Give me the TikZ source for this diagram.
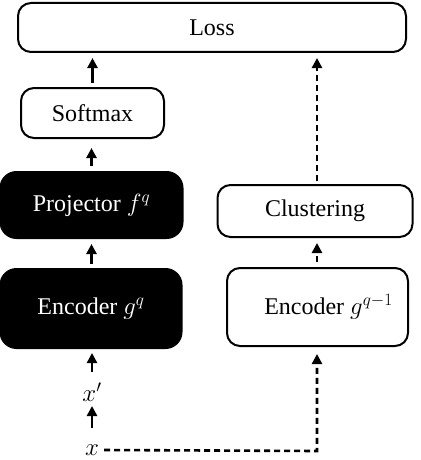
\documentclass[tikz,border=0pt]{standalone}
\usepackage{fontspec}
\setmainfont{Liberation Serif}
\usetikzlibrary{arrows.meta}
\begin{document}
\begin{tikzpicture}[x=1pt,y=-1pt,
  font=\fontsize{24}{28}\selectfont,
  box/.style={draw, line width=2pt, rounded corners=13pt, inner sep=0pt, fill=white},
  blackbox/.style={box, fill=black, text=white, rounded corners=16pt},
  arr/.style={line width=2.6pt, -{Triangle[length=10pt,width=10pt]}},
  darr/.style={arr, dash pattern=on 6pt off 4pt}]
\useasboundingbox (0,0) rectangle (420,460);
\node[box, minimum width=388pt, minimum height=49pt] (loss) at (212,27.5) {Loss};
\node[box, minimum width=143pt, minimum height=50pt] (soft) at (92.5,113) {Softmax};
\node[blackbox, minimum width=182pt, minimum height=66pt] (proj) at (91.5,205) {Projector $f^q$};
\node[blackbox, minimum width=181pt, minimum height=79pt] (encq) at (91,308.5) {Encoder $g^q$};
\node[box, minimum width=195pt, minimum height=52pt] (clus) at (315,211) {Clustering};
\node[box, minimum width=181pt, minimum height=78pt] (encp) at (317.5,307) {};
\node[inner sep=0pt] (encplabel) at (328.5,307) {Encoder $g^{q-1}$};
\node[inner sep=0pt] (xp) at (92,392) {$x'$};
\node[inner sep=0pt] (x) at (92,450) {$x$};
\coordinate (corner) at (317,451);

\draw[arr, shorten <=4pt, shorten >=5pt] (soft.north) -- (soft.north |- loss.south);
\draw[arr, shorten <=5pt, shorten >=9pt] (proj.north) -- (proj.north |- soft.south);
\draw[arr, shorten <=4pt, shorten >=5pt] (encq.north -| proj.south) -- (proj.south);
\draw[arr, shorten >=4pt] ([yshift=20pt]xp.center) -- (xp.center |- encq.south);
\draw[arr] ([yshift=22pt]x.center) -- ([yshift=-14pt]xp.center);
\draw[darr, shorten >=7pt] (x.east) ++(5pt,0) -- (corner) -- (corner |- encp.south);
\draw[darr, shorten <=5pt, shorten >=5pt] (corner |- encp.north) -- (corner |- clus.south);
\draw[darr, shorten <=3pt, shorten >=5pt] (corner |- clus.north) -- (corner |- loss.south);
\end{tikzpicture}
\end{document}
